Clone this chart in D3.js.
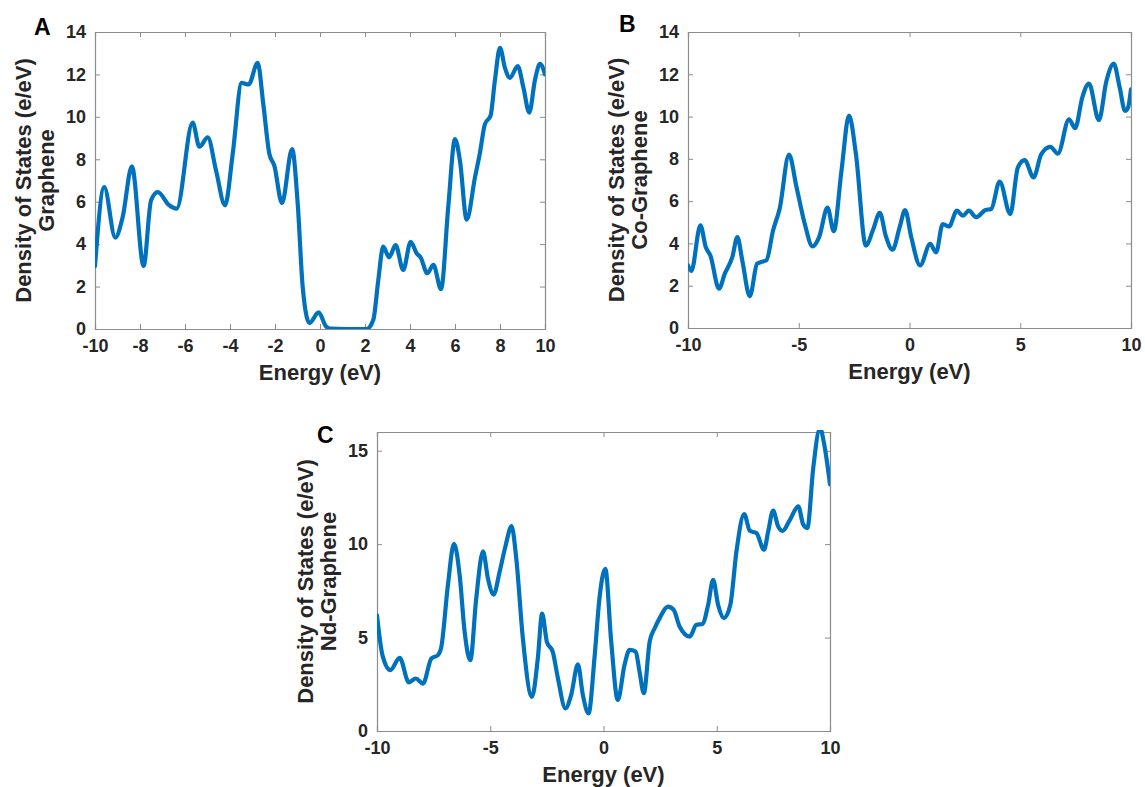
<!DOCTYPE html>
<html>
<head>
<meta charset="utf-8">
<script src="https://cdn.jsdelivr.net/npm/d3@7"></script>
<style>
  html, body { margin: 0; padding: 0; background: #ffffff; }
  svg { display: block; }
  text { font-family: "Liberation Sans", Arial, sans-serif; font-weight: bold; }
</style>
</head>
<body>
<svg id="chart" width="1145" height="787"></svg>
<script>
// ---------------- DATA ----------------
const grapheneEnergy = [-10, -9.59, -9.1, -8.77, -8.36, -7.84, -7.51, -7.21, -6.7, -6.37, -5.66, -5.36, -4.99, -4.62, -4.22, -3.88, -3.48, -3.17, -2.77, -2.52, -2.25, -2.03, -1.69, -1.24, -0.99, -0.77, -0.47, -0.06, 0.27, 0.44, 1.2, 2.07, 2.37, 2.59, 2.81, 3.07, 3.36, 3.7, 4.03, 4.3, 4.47, 4.77, 5.04, 5.38, 5.7, 6.0, 6.22, 6.52, 6.89, 7.1, 7.33, 7.58, 7.77, 8.0, 8.22, 8.44, 8.79, 9.04, 9.3, 9.56, 9.78, 10];
const grapheneDOS = [2.97, 6.69, 4.31, 5.28, 7.67, 2.97, 6.06, 6.45, 5.83, 5.67, 9.73, 8.59, 9.03, 7.47, 5.83, 8.25, 11.6, 11.53, 12.55, 10.6, 8.25, 7.7, 5.94, 8.48, 5.9, 2.0, 0.28, 0.78, 0.12, 0.02, 0, 0, 0.44, 2.3, 3.88, 3.38, 3.95, 2.78, 4.11, 3.56, 3.38, 2.63, 3.02, 1.88, 5.75, 8.95, 7.94, 5.16, 7.16, 8.25, 9.66, 10.05, 11.69, 13.25, 12.31, 11.84, 12.39, 11.38, 10.2, 11.77, 12.5, 12.0];

const coEnergy = [-10, -9.85, -9.44, -9.2, -8.99, -8.6, -8.34, -8.0, -7.77, -7.55, -7.21, -6.88, -6.7, -6.46, -6.16, -5.86, -5.44, -5.1, -4.73, -4.38, -4.08, -3.7, -3.42, -3.07, -2.73, -2.42, -1.97, -1.64, -1.34, -1.07, -0.77, -0.44, -0.2, 0.08, 0.48, 0.93, 1.2, 1.5, 1.78, 2.14, 2.41, 2.68, 3.01, 3.43, 3.69, 4.07, 4.55, 4.89, 5.2, 5.6, 5.95, 6.36, 6.7, 7.2, 7.48, 7.8, 8.1, 8.55, 8.89, 9.22, 9.49, 9.73, 9.86, 10];
const coDOS = [2.96, 2.69, 4.85, 3.83, 3.43, 1.86, 2.57, 3.35, 4.3, 3.2, 1.5, 3.04, 3.12, 3.2, 4.61, 5.65, 8.2, 6.66, 4.93, 3.86, 4.3, 5.69, 4.58, 7.45, 10.05, 8.24, 3.9, 4.66, 5.45, 4.35, 3.7, 4.78, 5.58, 4.29, 2.96, 3.98, 3.58, 4.92, 4.8, 5.55, 5.31, 5.55, 5.24, 5.58, 5.63, 6.93, 5.39, 7.59, 7.94, 7.12, 8.22, 8.57, 8.25, 9.87, 9.45, 10.9, 11.56, 9.83, 11.68, 12.5, 11.37, 10.27, 10.4, 11.29];

const ndEnergy = [-10, -9.76, -9.41, -9.0, -8.59, -8.29, -7.97, -7.6, -7.31, -7.16, -6.87, -6.6, -6.35, -6.13, -5.88, -5.62, -5.32, -5.1, -4.85, -4.59, -4.32, -4.06, -3.85, -3.56, -3.16, -2.9, -2.71, -2.5, -2.24, -2.01, -1.68, -1.43, -1.13, -0.91, -0.66, -0.4, -0.18, 0.08, 0.34, 0.63, 0.93, 1.15, 1.42, 1.59, 1.78, 2.04, 2.26, 2.48, 2.85, 3.1, 3.36, 3.81, 4.1, 4.37, 4.62, 4.84, 5.06, 5.32, 5.6, 5.87, 6.21, 6.46, 6.75, 7.09, 7.27, 7.49, 7.71, 7.9, 8.23, 8.6, 8.82, 9.0, 9.26, 9.56, 9.75, 10];
const ndDOS = [6.19, 4.06, 3.26, 3.91, 2.6, 2.81, 2.54, 3.88, 4.06, 4.5, 7.8, 10.02, 8.33, 5.3, 3.79, 7.08, 9.61, 8.15, 7.3, 8.5, 9.93, 10.96, 9.22, 4.95, 1.83, 3.88, 6.28, 4.77, 4.23, 2.81, 1.21, 1.92, 3.56, 1.92, 0.94, 3.88, 7.08, 8.68, 4.79, 1.66, 3.54, 4.34, 4.25, 3.18, 2.02, 4.79, 5.5, 6.04, 6.66, 6.48, 5.59, 5.05, 5.68, 5.73, 6.75, 8.09, 6.75, 6.04, 6.75, 9.61, 11.61, 10.71, 10.59, 9.7, 10.68, 11.79, 10.95, 10.71, 11.3, 12.02, 11.04, 10.86, 14.07, 16.2, 15.3, 13.2];

const xTicksA = [-10, -8, -6, -4, -2, 0, 2, 4, 6, 8, 10];
const xTicksBC = [-10, -5, 0, 5, 10];
const yTicksAB = [0, 2, 4, 6, 8, 10, 12, 14];
const yTicksC = [0, 5, 10, 15];

const panelLetters = ["A", "B", "C"];
const materialLabels = ["Graphene", "Co-Graphene", "Nd-Graphene"];
const yTitle = "Density of States (e/eV)";
const xTitle = "Energy (eV)";

// ---------------- DRAW ----------------
const svg = d3.select("#chart");
const lineColor = "#0072BD";
const axisColor = "#8c8c8c";
const textColor = "#262626";
const fmt = d => String(d);   // plain hyphen-minus, as in the reference

const panels = [
  { id: "a", letter: panelLetters[0], mat: materialLabels[0], E: grapheneEnergy, D: grapheneDOS,
    left: 95, right: 545, top: 32, bottom: 329, yMax: 14, xt: xTicksA, yt: yTicksAB,
    letterX: 34, letterY: 35 },
  { id: "b", letter: panelLetters[1], mat: materialLabels[1], E: coEnergy, D: coDOS,
    left: 688, right: 1131, top: 32, bottom: 328, yMax: 14, xt: xTicksBC, yt: yTicksAB,
    letterX: 619, letterY: 32 },
  { id: "c", letter: panelLetters[2], mat: materialLabels[2], E: ndEnergy, D: ndDOS,
    left: 377, right: 830, top: 432, bottom: 731, yMax: 16, xt: xTicksBC, yt: yTicksC,
    letterX: 317, letterY: 443 }
];

panels.forEach(p => {
  const x = d3.scaleLinear().domain([-10, 10]).range([p.left, p.right]);
  const y = d3.scaleLinear().domain([0, p.yMax]).range([p.bottom, p.top]);
  const g = svg.append("g");
  const tickLen = 5;

  svg.append("clipPath").attr("id", "clip-" + p.id)
    .append("rect").attr("x", p.left).attr("y", p.top - 2)
    .attr("width", p.right - p.left).attr("height", p.bottom - p.top + 2);

  const bottomAx = d3.axisBottom(x).tickValues(p.xt).tickSize(-tickLen).tickPadding(9).tickFormat(fmt);
  const leftAx = d3.axisLeft(y).tickValues(p.yt).tickSize(-tickLen).tickPadding(9).tickFormat(fmt);
  const topAx = d3.axisTop(x).tickValues(p.xt).tickSize(-tickLen).tickFormat("");
  const rightAx = d3.axisRight(y).tickValues(p.yt).tickSize(-tickLen).tickFormat("");

  const gb = g.append("g").attr("transform", `translate(0,${p.bottom})`).call(bottomAx);
  const gl = g.append("g").attr("transform", `translate(${p.left},0)`).call(leftAx);
  const gt = g.append("g").attr("transform", `translate(0,${p.top})`).call(topAx);
  const gr = g.append("g").attr("transform", `translate(${p.right},0)`).call(rightAx);
  [gb, gl, gt, gr].forEach(a => {
    a.select(".domain").attr("stroke", axisColor).attr("stroke-width", 1.2);
    a.selectAll(".tick line").attr("stroke", axisColor).attr("stroke-width", 1);
    a.selectAll(".tick text").attr("fill", textColor).style("font-size", "18px")
      .style("font-family", "'Liberation Sans', Arial, sans-serif").style("font-weight", "bold");
  });
  gb.selectAll(".tick text").attr("dy", "0.8em");

  const line = d3.line().x(d => x(d[0])).y(d => y(d[1])).curve(d3.curveMonotoneX);
  const pts = p.E.map((e, i) => [e, p.D[i]]);
  g.append("path").datum(pts)
    .attr("clip-path", `url(#clip-${p.id})`)
    .attr("fill", "none").attr("stroke", lineColor).attr("stroke-width", 4.2)
    .attr("stroke-linejoin", "round").attr("stroke-linecap", "round")
    .attr("d", line);

  g.append("text").attr("x", (p.left + p.right) / 2).attr("y", p.bottom + 51)
    .attr("text-anchor", "middle").attr("fill", textColor).style("font-size", "22px")
    .text(xTitle);

  const cy = (p.top + p.bottom) / 2;
  g.append("text").attr("transform", `translate(${p.left - 64},${cy}) rotate(-90)`)
    .attr("text-anchor", "middle").attr("fill", textColor).style("font-size", "22px")
    .text(yTitle);
  g.append("text").attr("transform", `translate(${p.left - 41},${cy}) rotate(-90)`)
    .attr("text-anchor", "middle").attr("fill", textColor).style("font-size", "22px")
    .text(p.mat);

  g.append("text").attr("x", p.letterX).attr("y", p.letterY)
    .attr("fill", "#000").style("font-size", "23px").text(p.letter);
});
</script>
</body>
</html>
